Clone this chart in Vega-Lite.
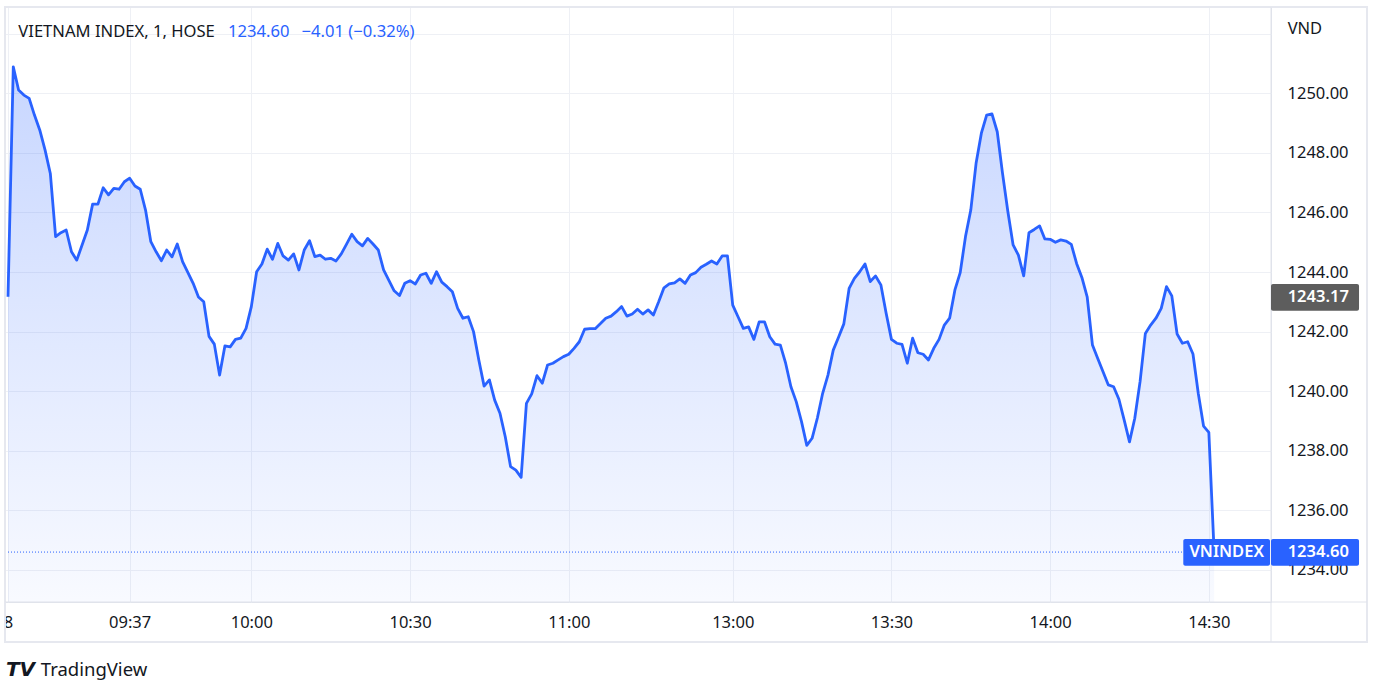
{
  "$schema": "https://vega.github.io/schema/vega-lite/v6.json",
  "width": 1266,
  "height": 595,
  "autosize": {"type": "none"},
  "padding": {"left": 5, "top": 7, "right": 111, "bottom": 94},
  "background": "#ffffff",
  "config": {
    "view": {"stroke": "#e0e3eb", "strokeWidth": 1},
    "font": "Noto Sans"
  },
  "data": {"values": [
    {"i":0,"v":1243.17},{"i":1,"v":1250.89},{"i":2,"v":1250.11},{"i":3,"v":1249.94},{"i":4,"v":1249.83},{"i":5,"v":1249.27},{"i":6,"v":1248.77},{"i":7,"v":1248.10},{"i":8,"v":1247.31},{"i":9,"v":1245.19},
    {"i":10,"v":1245.32},{"i":11,"v":1245.41},{"i":12,"v":1244.68},{"i":13,"v":1244.40},{"i":15,"v":1245.41},{"i":16,"v":1246.28},{"i":17,"v":1246.28},{"i":18,"v":1246.83},{"i":19,"v":1246.59},
    {"i":20,"v":1246.81},{"i":21,"v":1246.78},{"i":22,"v":1247.03},{"i":23,"v":1247.15},{"i":24,"v":1246.89},{"i":25,"v":1246.78},{"i":26,"v":1246.08},{"i":27,"v":1245.02},{"i":28,"v":1244.68},{"i":29,"v":1244.38},
    {"i":30,"v":1244.74},{"i":31,"v":1244.51},{"i":32,"v":1244.94},{"i":33,"v":1244.35},{"i":35,"v":1243.62},{"i":36,"v":1243.16},{"i":37,"v":1243.00},{"i":38,"v":1241.84},{"i":39,"v":1241.58},
    {"i":40,"v":1240.54},{"i":41,"v":1241.52},{"i":42,"v":1241.49},{"i":43,"v":1241.74},{"i":44,"v":1241.78},{"i":45,"v":1242.11},{"i":46,"v":1242.84},{"i":47,"v":1244.01},{"i":48,"v":1244.27},{"i":49,"v":1244.77},
    {"i":50,"v":1244.43},{"i":51,"v":1244.96},{"i":52,"v":1244.54},{"i":53,"v":1244.40},{"i":54,"v":1244.61},{"i":55,"v":1244.07},{"i":56,"v":1244.74},{"i":57,"v":1245.05},{"i":58,"v":1244.52},{"i":59,"v":1244.57},
    {"i":60,"v":1244.43},{"i":61,"v":1244.46},{"i":62,"v":1244.37},{"i":63,"v":1244.61},{"i":64,"v":1244.94},{"i":65,"v":1245.27},{"i":66,"v":1245.02},{"i":67,"v":1244.88},{"i":68,"v":1245.13},{"i":69,"v":1244.94},
    {"i":70,"v":1244.74},{"i":71,"v":1244.07},{"i":72,"v":1243.72},{"i":73,"v":1243.37},{"i":74,"v":1243.21},{"i":75,"v":1243.62},{"i":76,"v":1243.71},{"i":77,"v":1243.60},{"i":78,"v":1243.90},{"i":79,"v":1243.96},
    {"i":80,"v":1243.62},{"i":81,"v":1244.01},{"i":82,"v":1243.66},{"i":83,"v":1243.51},{"i":84,"v":1243.34},{"i":85,"v":1242.78},{"i":86,"v":1242.45},{"i":87,"v":1242.50},{"i":88,"v":1242.00},{"i":89,"v":1241.05},
    {"i":90,"v":1240.17},{"i":91,"v":1240.38},{"i":92,"v":1239.70},{"i":93,"v":1239.26},{"i":94,"v":1238.47},{"i":95,"v":1237.47},{"i":96,"v":1237.35},{"i":97,"v":1237.11},{"i":98,"v":1239.59},{"i":99,"v":1239.91},
    {"i":100,"v":1240.52},{"i":101,"v":1240.27},{"i":102,"v":1240.88},{"i":103,"v":1240.94},{"i":104,"v":1241.05},{"i":105,"v":1241.16},{"i":106,"v":1241.24},{"i":107,"v":1241.44},{"i":108,"v":1241.66},{"i":109,"v":1242.08},
    {"i":110,"v":1242.10},{"i":111,"v":1242.10},{"i":112,"v":1242.27},{"i":113,"v":1242.45},{"i":114,"v":1242.52},{"i":115,"v":1242.67},{"i":116,"v":1242.84},{"i":117,"v":1242.52},{"i":118,"v":1242.59},{"i":119,"v":1242.75},
    {"i":120,"v":1242.59},{"i":121,"v":1242.73},{"i":122,"v":1242.56},{"i":123,"v":1243.00},{"i":124,"v":1243.47},{"i":125,"v":1243.60},{"i":126,"v":1243.64},{"i":127,"v":1243.77},{"i":128,"v":1243.62},{"i":129,"v":1243.90},
    {"i":130,"v":1243.98},{"i":131,"v":1244.16},{"i":132,"v":1244.26},{"i":133,"v":1244.37},{"i":134,"v":1244.27},{"i":135,"v":1244.54},{"i":136,"v":1244.54},{"i":137,"v":1242.89},{"i":138,"v":1242.50},{"i":139,"v":1242.11},
    {"i":140,"v":1242.16},{"i":141,"v":1241.74},{"i":142,"v":1242.33},{"i":143,"v":1242.33},{"i":144,"v":1241.83},{"i":145,"v":1241.58},{"i":146,"v":1241.55},{"i":147,"v":1240.94},{"i":148,"v":1240.15},{"i":149,"v":1239.65},
    {"i":150,"v":1238.98},{"i":151,"v":1238.18},{"i":152,"v":1238.42},{"i":153,"v":1239.10},{"i":154,"v":1239.93},{"i":155,"v":1240.54},{"i":156,"v":1241.38},{"i":157,"v":1241.81},{"i":158,"v":1242.26},{"i":159,"v":1243.45},
    {"i":160,"v":1243.79},{"i":161,"v":1244.01},{"i":162,"v":1244.27},{"i":163,"v":1243.68},{"i":164,"v":1243.87},{"i":165,"v":1243.57},{"i":166,"v":1242.62},{"i":167,"v":1241.74},{"i":168,"v":1241.61},{"i":169,"v":1241.57},
    {"i":170,"v":1240.94},{"i":171,"v":1241.78},{"i":172,"v":1241.29},{"i":173,"v":1241.24},{"i":174,"v":1241.05},{"i":175,"v":1241.44},{"i":176,"v":1241.74},{"i":177,"v":1242.22},{"i":178,"v":1242.45},{"i":179,"v":1243.40},
    {"i":180,"v":1243.98},{"i":181,"v":1245.19},{"i":182,"v":1246.08},{"i":183,"v":1247.65},{"i":184,"v":1248.66},{"i":185,"v":1249.27},{"i":186,"v":1249.31},{"i":187,"v":1248.71},{"i":188,"v":1247.31},{"i":189,"v":1246.04},
    {"i":190,"v":1244.91},{"i":191,"v":1244.57},{"i":192,"v":1243.87},{"i":193,"v":1245.32},{"i":194,"v":1245.43},{"i":195,"v":1245.55},{"i":196,"v":1245.11},{"i":197,"v":1245.10},{"i":198,"v":1245.00},{"i":199,"v":1245.08},
    {"i":200,"v":1245.04},{"i":201,"v":1244.93},{"i":202,"v":1244.29},{"i":203,"v":1243.82},{"i":204,"v":1243.17},{"i":205,"v":1241.55},{"i":206,"v":1241.10},{"i":207,"v":1240.65},{"i":208,"v":1240.21},{"i":209,"v":1240.15},
    {"i":210,"v":1239.73},{"i":211,"v":1239.03},{"i":212,"v":1238.30},{"i":213,"v":1239.09},{"i":214,"v":1240.32},{"i":215,"v":1241.94},{"i":216,"v":1242.22},{"i":217,"v":1242.45},{"i":218,"v":1242.78},{"i":219,"v":1243.51},
    {"i":220,"v":1243.20},{"i":221,"v":1241.92},{"i":222,"v":1241.61},{"i":223,"v":1241.66},{"i":224,"v":1241.25},{"i":225,"v":1239.93},{"i":226,"v":1238.83},{"i":227,"v":1238.62},{"i":228,"v":1234.60}
  ]},
  "layer": [
    {
      "mark": {"type": "area", "line": false, "color": {"gradient": "linear", "x1": 0, "y1": 0, "x2": 0, "y2": 1, "stops": [{"offset": 0, "color": "rgba(41,98,255,0.26)"}, {"offset": 1, "color": "rgba(41,98,255,0.03)"}]}},
      "encoding": {
        "x": {"field": "i", "type": "quantitative",
          "scale": {"domain": [-0.567, 238.75], "nice": false, "zero": false},
          "axis": {"orient": "bottom", "title": null, "values": [0, 23, 46, 76, 106, 137, 167, 197, 227],
            "labelExpr": "datum.value==0?'8':datum.value==23?'09:37':datum.value==46?'10:00':datum.value==76?'10:30':datum.value==106?'11:00':datum.value==137?'13:00':datum.value==167?'13:30':datum.value==197?'14:00':'14:30'",
            "grid": true, "gridColor": "#eef0f5", "gridWidth": 1, "domain": false, "ticks": false,
            "labelPadding": 20, "labelBaseline": "middle", "labelFont": "Noto Sans", "labelFontSize": 16.5, "labelColor": "#131722", "labelFlush": false, "labelOverlap": false}},
        "y": {"field": "v", "type": "quantitative",
          "scale": {"domain": [1232.924, 1252.897], "nice": false, "zero": false},
          "axis": {"orient": "right", "title": null, "values": [1234, 1236, 1238, 1240, 1242, 1244, 1246, 1248, 1250, 1252],
            "labelExpr": "datum.value>1251?'':format(datum.value,'.2f')",
            "grid": true, "gridColor": "#eef0f5", "gridWidth": 1, "domain": false, "ticks": false,
            "labelPadding": 16, "labelAlign": "left", "labelBaseline": "middle", "labelFont": "Noto Sans", "labelFontSize": 16.5, "labelColor": "#131722", "labelOverlap": false}},
        "y2": {"datum": 1232.924}
      }
    },
    {
      "mark": {"type": "line", "color": "#2962FF", "strokeWidth": 2.8, "strokeJoin": "round"},
      "encoding": {
        "x": {"field": "i", "type": "quantitative"},
        "y": {"field": "v", "type": "quantitative"}
      }
    },
    {
      "data": {"values": [{"t": "prev"}]},
      "mark": {"type": "rule", "color": "#2962FF", "strokeWidth": 1, "strokeDash": [1, 2]},
      "encoding": {
        "x": {"datum": -0.567, "type": "quantitative"},
        "x2": {"datum": 222.17},
        "y": {"datum": 1234.6, "type": "quantitative"}
      }
    },
    {
      "data": {"values": [{"t": "frame"}]},
      "mark": {"type": "rect", "fill": null, "fillOpacity": 0, "stroke": "#e6e8ef", "strokeWidth": 2},
      "encoding": {
        "x": {"datum": -0.567, "type": "quantitative"},
        "x2": {"datum": 256.9},
        "y": {"datum": 1252.897, "type": "quantitative"},
        "y2": {"datum": 1231.58}
      }
    },
    {
      "data": {"values": [{"t": "sep"}]},
      "mark": {"type": "rule", "color": "#e0e3eb", "strokeWidth": 1},
      "encoding": {
        "x": {"datum": -0.567, "type": "quantitative"},
        "x2": {"datum": 256.9},
        "y": {"datum": 1232.924, "type": "quantitative"}
      }
    },
    {
      "data": {"values": [{"t": "sep"}]},
      "mark": {"type": "rule", "color": "#e0e3eb", "strokeWidth": 1},
      "encoding": {
        "x": {"datum": 238.75, "type": "quantitative"},
        "y": {"datum": 1252.897, "type": "quantitative"},
        "y2": {"datum": 1231.58}
      }
    },
    {
      "data": {"values": [{"t": "box"}]},
      "mark": {"type": "rect", "color": "#5d5d5d", "cornerRadius": 2},
      "encoding": {
        "x": {"datum": 238.75, "type": "quantitative"},
        "x2": {"datum": 255.39},
        "y": {"datum": 1243.60, "type": "quantitative"},
        "y2": {"datum": 1242.70}
      }
    },
    {
      "data": {"values": [{"t": "box"}]},
      "mark": {"type": "rect", "color": "#2962FF", "cornerRadius": 2},
      "encoding": {
        "x": {"datum": 238.75, "type": "quantitative"},
        "x2": {"datum": 255.39},
        "y": {"datum": 1235.04, "type": "quantitative"},
        "y2": {"datum": 1234.14}
      }
    },
    {
      "data": {"values": [{"t": "box"}]},
      "mark": {"type": "rect", "color": "#2962FF", "cornerRadius": 2},
      "encoding": {
        "x": {"datum": 222.17, "type": "quantitative"},
        "x2": {"datum": 238.56},
        "y": {"datum": 1235.04, "type": "quantitative"},
        "y2": {"datum": 1234.14}
      }
    },
    {
      "data": {"values": [{"t": "1243.17"}]},
      "mark": {"type": "text", "color": "#ffffff", "font": "Noto Sans", "fontSize": 16.5, "fontWeight": 600, "align": "left", "baseline": "middle"},
      "encoding": {
        "x": {"datum": 241.9, "type": "quantitative"},
        "y": {"datum": 1243.15, "type": "quantitative"},
        "text": {"field": "t"}
      }
    },
    {
      "data": {"values": [{"t": "1234.60"}]},
      "mark": {"type": "text", "color": "#ffffff", "font": "Noto Sans", "fontSize": 16.5, "fontWeight": 600, "align": "left", "baseline": "middle"},
      "encoding": {
        "x": {"datum": 241.9, "type": "quantitative"},
        "y": {"datum": 1234.59, "type": "quantitative"},
        "text": {"field": "t"}
      }
    },
    {
      "data": {"values": [{"t": "VNINDEX"}]},
      "mark": {"type": "text", "color": "#ffffff", "font": "Noto Sans", "fontSize": 16.5, "fontWeight": 600, "align": "center", "baseline": "middle"},
      "encoding": {
        "x": {"datum": 230.37, "type": "quantitative"},
        "y": {"datum": 1234.59, "type": "quantitative"},
        "text": {"field": "t"}
      }
    },
    {
      "data": {"values": [{"t": "VIETNAM INDEX, 1, HOSE"}]},
      "mark": {"type": "text", "color": "#131722", "font": "Noto Sans", "fontSize": 16.6, "align": "left", "baseline": "alphabetic"},
      "encoding": {
        "x": {"datum": 1.95, "type": "quantitative"},
        "y": {"datum": 1251.9, "type": "quantitative"},
        "text": {"field": "t"}
      }
    },
    {
      "data": {"values": [{"t": "1234.60"}]},
      "mark": {"type": "text", "color": "#2962FF", "font": "Noto Sans", "fontSize": 16.6, "align": "left", "baseline": "alphabetic"},
      "encoding": {
        "x": {"datum": 41.6, "type": "quantitative"},
        "y": {"datum": 1251.9, "type": "quantitative"},
        "text": {"field": "t"}
      }
    },
    {
      "data": {"values": [{"t": "−4.01 (−0.32%)"}]},
      "mark": {"type": "text", "color": "#2962FF", "font": "Noto Sans", "fontSize": 16.6, "align": "left", "baseline": "alphabetic"},
      "encoding": {
        "x": {"datum": 55.5, "type": "quantitative"},
        "y": {"datum": 1251.9, "type": "quantitative"},
        "text": {"field": "t"}
      }
    },
    {
      "data": {"values": [{"t": "VND"}]},
      "mark": {"type": "text", "color": "#131722", "font": "Noto Sans", "fontSize": 16.5, "align": "left", "baseline": "alphabetic"},
      "encoding": {
        "x": {"datum": 241.9, "type": "quantitative"},
        "y": {"datum": 1251.99, "type": "quantitative"},
        "text": {"field": "t"}
      }
    },
    {
      "data": {"values": [{"t": "TV"}]},
      "mark": {"type": "text", "color": "#131722", "font": "DejaVu Sans", "fontSize": 20, "fontWeight": "bold", "fontStyle": "italic", "align": "left", "baseline": "alphabetic"},
      "encoding": {
        "x": {"datum": -0.4, "type": "quantitative"},
        "y": {"datum": 1230.44, "type": "quantitative"},
        "text": {"field": "t"}
      }
    },
    {
      "data": {"values": [{"t": "TradingView"}]},
      "mark": {"type": "text", "color": "#131722", "font": "Noto Sans", "fontSize": 18.5, "align": "left", "baseline": "alphabetic"},
      "encoding": {
        "x": {"datum": 6.2, "type": "quantitative"},
        "y": {"datum": 1230.44, "type": "quantitative"},
        "text": {"field": "t"}
      }
    }
  ]
}
